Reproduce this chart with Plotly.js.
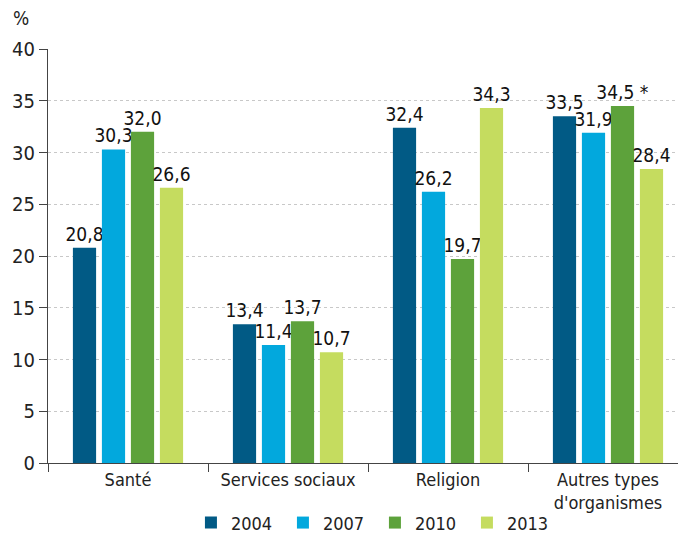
<!DOCTYPE html>
<html><head><meta charset="utf-8">
<script src="https://cdn.plot.ly/plotly-3.0.1.min.js"></script>
<style>html,body{margin:0;padding:0;background:#fff}#chart{width:678px;height:533px}</style>
</head><body><div id="chart"></div>
<script>
const categories = ["Santé", "Services sociaux", "Religion", "Autres types<br>d'organismes"];
const years = ["2004", "2007", "2010", "2013"];
const v2004 = [20.8, 13.4, 32.4, 33.5];
const v2007 = [30.3, 11.4, 26.2, 31.9];
const v2010 = [32.0, 13.7, 19.7, 34.5];
const v2013 = [26.6, 10.7, 34.3, 28.4];
const notes2010 = ["", "", "", "*"];
const yTicks = [0, 5, 10, 15, 20, 25, 30, 35, 40];

const colors = ["#015a85", "#02a8dd", "#5da23b", "#c5dc5f"];
const FONT = "'Liberation Sans Narrow', 'DejaVu Sans Condensed', 'Roboto Condensed', 'Arial Narrow', Roboto, sans-serif";
const fmt = v => v.toFixed(1).replace(".", ",");
const series = [v2004, v2007, v2010, v2013];
const traces = series.map((vals, i) => ({
  type: "bar",
  name: years[i],
  x: categories,
  y: vals,
  text: vals.map((v, j) => fmt(v) + (i === 2 && notes2010[j] ? " " + notes2010[j] : "")),
  textposition: "outside",
  textangle: 0,
  constraintext: "none",
  cliponaxis: false,
  textfont: {family: FONT, size: 19, color: "#111"},
  marker: {color: colors[i]},
  hoverinfo: "none"
}));

const layout = {
  width: 678, height: 533,
  margin: {l: 48, r: 0, t: 49, b: 70, autoexpand: false},
  paper_bgcolor: "#fff", plot_bgcolor: "#fff",
  font: {family: FONT, size: 18, color: "#222"},
  barmode: "group",
  bargap: 0.275,
  bargroupgap: 0.2,
  showlegend: true,
  legend: {orientation: "h", xref: "container", yref: "container",
           x: 0.553, xanchor: "center", y: 0.019, yanchor: "middle",
           bgcolor: "rgba(0,0,0,0)",
           font: {family: FONT, size: 18, color: "#222"},
           entrywidth: 47, entrywidthmode: "pixels", traceorder: "normal"},
  xaxis: {
    range: [-0.5, 3.4375],
    tickson: "boundaries",
    ticks: "outside", ticklen: 8, tickcolor: "#444", tickwidth: 1,
    showline: true, linecolor: "#444", linewidth: 1,
    showgrid: false, zeroline: false,
    tickfont: {family: FONT, size: 18, color: "#222"},
    automargin: false,
    fixedrange: true
  },
  yaxis: {
    range: [0, 40],
    tickvals: yTicks,
    ticktext: yTicks.map(String),
    ticks: "outside", ticklen: 8, tickcolor: "#444", tickwidth: 1,
    showline: true, linecolor: "#444", linewidth: 1,
    showgrid: true, gridcolor: "#c8c8c8", griddash: "dot", gridwidth: 1,
    zeroline: false,
    tickfont: {family: FONT, size: 20, color: "#222"},
    automargin: false,
    fixedrange: true
  },
  annotations: [{
    text: "%", xref: "paper", yref: "paper", x: -0.058, y: 1.075,
    xanchor: "left", yanchor: "middle", showarrow: false,
    font: {family: FONT, size: 19, color: "#222"}
  }]
};
Plotly.newPlot("chart", traces, layout, {displayModeBar: false, staticPlot: true});
</script></body></html>
